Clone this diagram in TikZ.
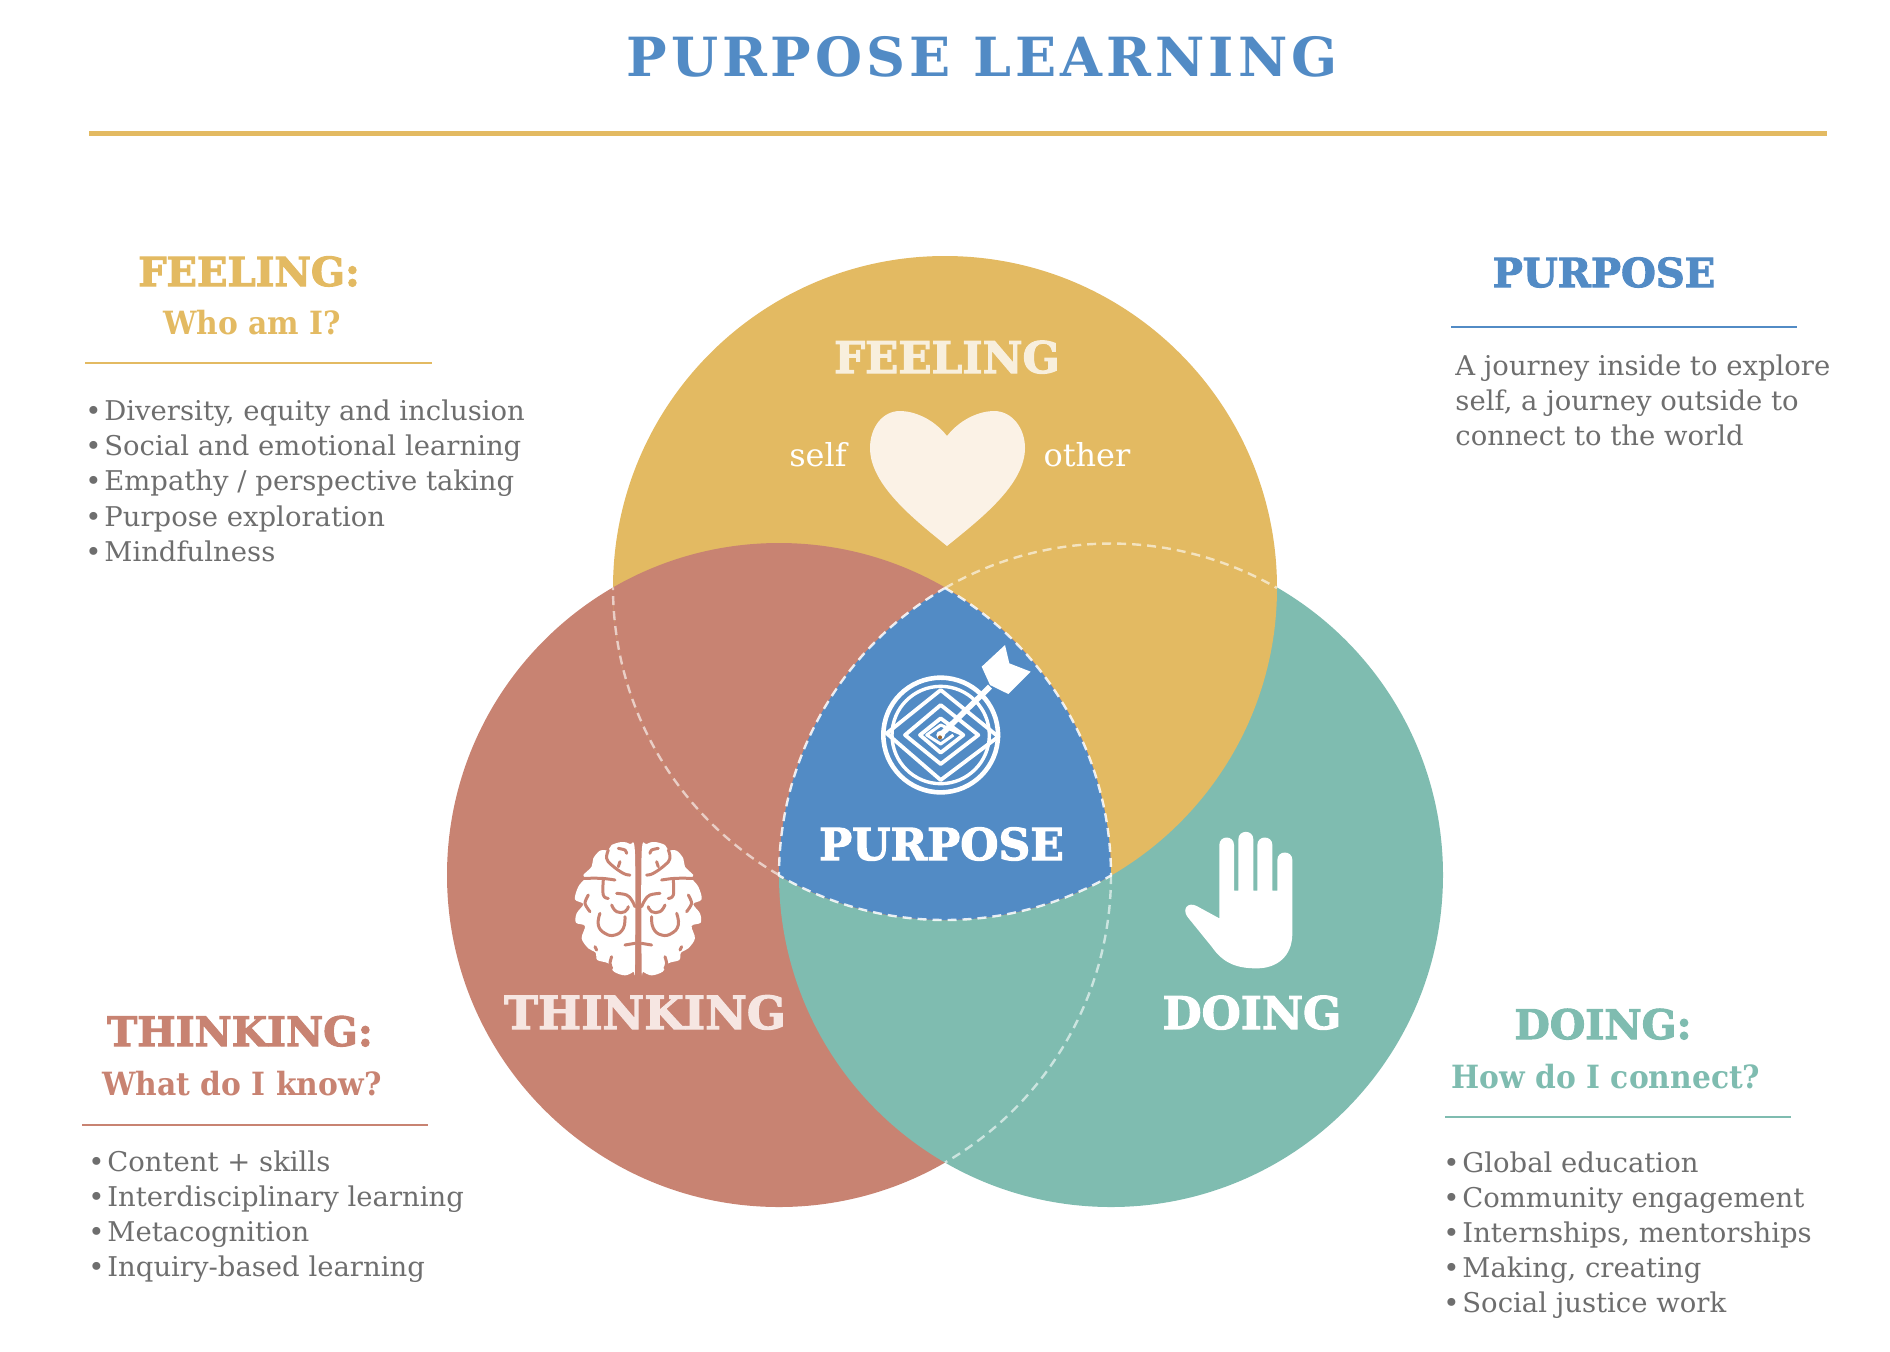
\documentclass[tikz,border=0pt]{standalone}
\usepackage{fontspec}
\setmainfont{DejaVu Serif}
\newfontfamily\slabheavy{DejaVu Serif Bold}[FakeBold=2.5,FakeStretch=1.0]
\newfontfamily\slabtitle{DejaVu Serif Bold}[LetterSpace=7.4]
\newfontfamily\slabmid{DejaVu Serif Bold}[FakeStretch=0.93]
\newfontfamily\slabbody{DejaVu Serif}[FakeStretch=1.01]
\definecolor{cyellow}{HTML}{E3BA62}
\definecolor{cred}{HTML}{C88372}
\definecolor{cteal}{HTML}{7FBCB0}
\definecolor{cblue}{HTML}{528BC5}
\definecolor{ctext}{HTML}{6E6E6E}
\definecolor{cheart}{HTML}{FBF2E6}
\definecolor{cfeelw}{HTML}{F8EFDD}
\definecolor{cthinkw}{HTML}{F6E6E2}
\newcommand{\bul}{\makebox[9.5pt][l]{•}}
\tikzset{
  heavyhead/.style={anchor=base,inner sep=0pt,font=\slabheavy\fontsize{20}{24}\selectfont},
  midhead/.style={anchor=base,inner sep=0pt,font=\slabmid\fontsize{16}{19}\selectfont},
  listitem/.style={anchor=base west,inner sep=0pt,text=ctext,font=\slabbody\fontsize{13.6}{16}\selectfont},
  whitelabel/.style={anchor=base,inner sep=0pt,text=white,font=\slabbody\fontsize{15.8}{18}\selectfont},
  dashline/.style={white,line width=1.2pt,dash pattern=on 4.5pt off 3pt,opacity=.85},
  softdash/.style={dashline,opacity=.6},
  grooveline/.style={line width=1.5pt,line cap=round,line join=round},
}
\newcommand{\brainhalf}[1]{%
  \fill[white] plot[smooth cycle,tension=.55] coordinates {(10,160)(25,132)(50,126)(80,135)(90,150)(115,152)(135,175)(140,200)(165,225)(160,235)(180,260)(190,298)(165,312)(185,340)(187,368)(160,378)(170,415)(150,445)(128,458)(123,480)(90,490)(73,515)(40,526)(15,515)(10,500)};
  \draw[grooveline,#1] plot[smooth,tension=.7] coordinates {(90,150)(95,175)(80,195)(45,220)(25,225)};
  \draw[grooveline,#1] plot[smooth] coordinates {(60,145)(40,150)(35,160)};
  \draw[grooveline,#1] plot[smooth] coordinates {(55,185)(60,200)};
  \draw[grooveline,#1] plot[smooth,tension=.6] coordinates {(165,235)(110,235)(70,240)};
  \draw[grooveline,#1] plot[smooth,tension=.7] coordinates {(105,240)(105,285)(90,295)};
  \draw[grooveline,#1] plot[smooth,tension=.7] coordinates {(65,280)(35,285)(20,300)(10,320)};
  \draw[grooveline,#1] plot[smooth] coordinates {(150,285)(160,310)(145,335)};
  \draw[grooveline,#1] plot[smooth,tension=.8] coordinates {(115,340)(120,375)(100,400)(70,405)(45,385)(40,350)};
  \draw[grooveline,#1] plot[smooth,tension=.8] coordinates {(80,315)(65,335)(40,335)(30,320)};
  \draw[grooveline,#1] plot[smooth] coordinates {(40,435)(10,430)};
  \draw[grooveline,#1] plot[smooth] coordinates {(130,440)(125,450)};
  \draw[grooveline,#1] plot[smooth] coordinates {(80,470)(85,490)(80,505)};
}
\begin{document}
\begin{tikzpicture}[x=0.5pt,y=-0.5pt]
\useasboundingbox (0,0) rectangle (1890,1351);
\coordinate (F) at (945,588);
\coordinate (T) at (779,875);
\coordinate (D) at (1111,875);
% title
\node[anchor=base,inner sep=0pt,text=cblue,font=\slabtitle\fontsize{27}{32}\selectfont] (title) at (982,76) {PURPOSE LEARNING};
\draw[cyellow,line width=2.5pt] (89,133) -- (1827,133);
% circles with cyclic overlap
\fill[cred] (T) circle (332);
\fill[cteal] (D) circle (332);
\fill[cyellow] (F) circle (332);
\begin{scope}
  \clip (T) circle (332);
  \fill[cred] (F) circle (332);
\end{scope}
\fill[cblue] (F) arc[start angle=-60,end angle=0,radius=332]
  arc[start angle=60,end angle=120,radius=332]
  arc[start angle=180,end angle=240,radius=332] -- cycle;
% dashed arcs
\draw[dashline] (F) arc[start angle=-60,end angle=0,radius=332]
  arc[start angle=60,end angle=120,radius=332]
  arc[start angle=180,end angle=240,radius=332];
\draw[softdash] (T) arc[start angle=120,end angle=180,radius=332];
\draw[softdash] (F) arc[start angle=240,end angle=300,radius=332];
\draw[softdash] (D) arc[start angle=0,end angle=60,radius=332];
% heart
\fill[cheart] (947,436) .. controls (932,417) and (912,411) .. (900,411)
  .. controls (882,411) and (870,428) .. (870,448)
  .. controls (870,485) and (915,520) .. (947,546)
  .. controls (979,520) and (1025,485) .. (1025,448)
  .. controls (1025,428) and (1012,411) .. (994,411)
  .. controls (982,411) and (962,417) .. (947,436) -- cycle;
% target
\begin{scope}[shift={(750,560)},x=0.16667pt,y=-0.16667pt,white]
  \draw[line width=2.3pt] (572,525) circle (172);
  \draw[line width=1.7pt] (572,525) circle (146);
  \draw[line width=1.9pt,line join=round] (572,390) -- (745,530) -- (572,660) -- (410,520) -- cycle;
  \draw[line width=1.9pt,line join=round] (572,435) -- (685,525) -- (572,612) -- (465,525) -- cycle;
  \draw[line width=1.9pt,line join=round] (572,475) -- (640,525) -- (572,578) -- (510,525) -- cycle;
  \draw[line width=1.5pt,line join=round] (640,525) -- (572,495) -- (530,525) -- (572,552) -- (610,525);
  \draw[line width=2.8pt] (572,525) -- (720,380);
  \fill (695,320) -- (765,255) -- (778,310) -- (842,335) -- (775,402) -- (720,375) -- cycle;
  \fill[white] (572,525) circle (13);
  \fill[brown!80!black] (570,532) circle (6);
\end{scope}
% brain
\begin{scope}[shift={(638.3,800)},x=-0.16667pt,y=-0.16667pt]\brainhalf{cred}\end{scope}
\begin{scope}[shift={(638.3,800)},x=0.16667pt,y=-0.16667pt]\brainhalf{cred}\end{scope}
% hand
\begin{scope}[shift={(1150,800)},x=0.16667pt,y=-0.16667pt]
\fill[white] (208,355) -- (208,135) .. controls (208,105) and (252,105) .. (252,135) -- (252,272) -- (265,272)
 -- (265,118) .. controls (265,88) and (310,88) .. (310,118) -- (310,272) -- (322,272)
 -- (322,135) .. controls (322,105) and (367,105) .. (367,135) -- (367,272) -- (382,272)
 -- (382,180) .. controls (382,150) and (427,150) .. (427,180) -- (427,400)
 .. controls (427,470) and (380,505) .. (320,505) .. controls (260,505) and (220,490) .. (185,440)
 -- (112,350) .. controls (95,325) and (115,305) .. (140,318) -- cycle;
\end{scope}
% labels in circles
\node[heavyhead,text=cfeelw,font=\slabheavy\fontsize{21.8}{24}\selectfont] (cfeel) at (947,373) {FEELING};
\node[whitelabel] (cself) at (818,466) {self};
\node[whitelabel] (cother) at (1087,466) {other};
\node[heavyhead,text=white,font=\slabheavy\fontsize{22}{24}\selectfont] (cpurp) at (941.5,860) {PURPOSE};
\node[heavyhead,text=cthinkw,font=\slabheavy\fontsize{22.8}{24}\selectfont] (cthink) at (645,1029) {THINKING};
\node[heavyhead,text=white,font=\slabheavy\fontsize{22.5}{24}\selectfont] (cdoing) at (1252,1029) {DOING};
% FEELING panel
\node[heavyhead,text=cyellow] (fh) at (249,286) {FEELING:};
\node[midhead,text=cyellow] (fs) at (252,334) {Who am I?};
\draw[cyellow,line width=1.2pt] (85,363) -- (432,363);
\node[listitem] (f1) at (85,420) {\bul Diversity, equity and inclusion};
\node[listitem] (f2) at (85,455) {\bul Social and emotional learning};
\node[listitem] (f3) at (85,490) {\bul Empathy / perspective taking};
\node[listitem] (f4) at (85,526) {\bul Purpose exploration};
\node[listitem] (f5) at (85,561) {\bul Mindfulness};
% PURPOSE panel
\node[heavyhead,text=cblue] (ph) at (1604,287) {PURPOSE};
\draw[cblue,line width=1.2pt] (1451,327) -- (1797,327);
\node[listitem] (p1) at (1455,375) {A journey inside to explore};
\node[listitem] (p2) at (1455,410) {self, a journey outside to};
\node[listitem] (p3) at (1455,445) {connect to the world};
% THINKING panel
\node[heavyhead,text=cred,font=\slabheavy\fontsize{20.3}{24}\selectfont] (th) at (240,1046) {THINKING:};
\node[midhead,text=cred] (ts) at (242,1095) {What do I know?};
\draw[cred,line width=1.2pt] (82,1125) -- (428,1125);
\node[listitem] (t1) at (88,1171) {\bul Content + skills};
\node[listitem] (t2) at (88,1206) {\bul Interdisciplinary learning};
\node[listitem] (t3) at (88,1241) {\bul Metacognition};
\node[listitem] (t4) at (88,1276) {\bul Inquiry-based learning};
% DOING panel
\node[heavyhead,text=cteal,font=\slabheavy\fontsize{20.4}{24}\selectfont] (dh) at (1603,1039) {DOING:};
\node[midhead,text=cteal] (ds) at (1606,1088) {How do I connect?};
\draw[cteal,line width=1.2pt] (1445,1117) -- (1791,1117);
\node[listitem] (d1) at (1443,1172) {\bul Global education};
\node[listitem] (d2) at (1443,1207) {\bul Community engagement};
\node[listitem] (d3) at (1443,1242) {\bul Internships, mentorships};
\node[listitem] (d4) at (1443,1277) {\bul Making, creating};
\node[listitem] (d5) at (1443,1312) {\bul Social justice work};
\end{tikzpicture}
\end{document}
